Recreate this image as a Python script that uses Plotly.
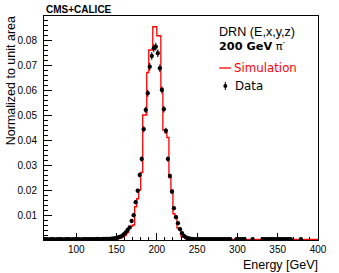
import math
import plotly.graph_objects as go

# ---------------- data ----------------
BIN_START = 60.0
BIN_WIDTH = 2.5
N_EVENTS = 30000  # used for Poisson error bars on data

data_values = [
    0.0003, 0.0003, 0.0002, 0.0003, 0.0003, 0.0002, 0.0003, 0.0003, 0.0003, 0.0002,
    0.0003, 0.0003, 0.0003, 0.0002, 0.0003, 0.0003, 0.0003, 0.0003, 0.0002, 0.0003,
    0.0003, 0.0003, 0.0003, 0.0003, 0.0003, 0.0003, 0.0004, 0.0003, 0.0003, 0.0004,
    0.0004, 0.0004, 0.0004, 0.0005, 0.0006, 0.0007, 0.0009, 0.0012, 0.0015, 0.0022,
    0.0030, 0.0040, 0.0050, 0.0076, 0.0099, 0.0151, 0.0197, 0.0260, 0.0324, 0.0443,
    0.0520, 0.0587, 0.0693, 0.0736, 0.0767, 0.0773, 0.0747, 0.0687, 0.0600, 0.0523,
    0.0437, 0.0324, 0.0256, 0.0193, 0.0127, 0.0091, 0.0067, 0.0043, 0.0027, 0.0016,
    0.0010, 0.0007, 0.0005, 0.0004, 0.0003, 0.0003, 0.0003, 0.0003, 0.0003, 0.0003,
    0.0003, 0.0003, 0.0003, 0.0003, 0.0003, 0.0003, 0.0003, 0.0003, 0.0003, 0.0003,
    0.0003, 0.0003, 0.0003, None, None, 0.0003, 0.0003, 0.0003, 0.0003, 0.0003,
    None, None, None, 0.0003, None, None, None, None, 0.0003, 0.0003,
    0.0003, 0.0003, 0.0003, 0.0003, 0.0003, 0.0003, 0.0003, 0.0003, 0.0003, 0.0003,
    0.0003, 0.0003, 0.0003, None, None, None, None, 0.0003, None, None,
    None, None, None, None, None, None,
]

sim_values = [
    0.0001, 0.0001, 0.0001, 0.0001, 0.0001, 0.0001, 0.0001, 0.0001, 0.0001, 0.0001,
    0.0001, 0.0001, 0.0001, 0.0001, 0.0001, 0.0001, 0.0001, 0.0001, 0.0001, 0.0001,
    0.0001, 0.0001, 0.0001, 0.0001, 0.0002, 0.0002, 0.0002, 0.0002, 0.0002, 0.0002,
    0.0002, 0.0002, 0.0003, 0.0003, 0.0004, 0.0005, 0.0005, 0.0007, 0.0010, 0.0013,
    0.0020, 0.0030, 0.0047, 0.0055, 0.0060, 0.0133, 0.0165, 0.0200, 0.0270, 0.0500,
    0.0500, 0.0670, 0.0760, 0.0760, 0.0853, 0.0853, 0.0817, 0.0817, 0.0607, 0.0440,
    0.0430, 0.0410, 0.0250, 0.0200, 0.0105, 0.0095, 0.0048, 0.0045, 0.0014, 0.0012,
    0.0006, 0.0005, 0.0004, 0.0004, 0.0003, 0.0003, 0.0002, 0.0002, 0.0002, 0.0002,
    0.0002, 0.0002, 0.0002, 0.0002, 0.0002, 0.0002, 0.0002, 0.0002, 0.0002, 0.0002,
    0.0002, 0.0002, 0.0002, 0.0002, 0.0002, 0.0002, 0.0002, 0.0002, 0.0002, 0.0002,
    0.0002, 0.0002, 0.0002, 0.0002, 0.0002, 0.0002, 0.0002, 0.0002, 0.0002, 0.0002,
    0.0002, 0.0002, 0.0002, 0.0002, 0.0002, 0.0002, 0.0002, 0.0002, 0.0002, 0.0002,
    0.0002, 0.0002, 0.0002, 0.0002, 0.0002, 0.0002, 0.0002, 0.0002, 0.0002, 0.0002,
    0.0002, 0.0002, 0.0002, 0.0002, 0.0002, 0.0002,
]

x_tick_vals = [100, 150, 200, 250, 300, 350, 400]
y_tick_vals = [0.01, 0.02, 0.03, 0.04, 0.05, 0.06, 0.07, 0.08]
y_tick_text = ["0.01", "0.02", "0.03", "0.04", "0.05", "0.06", "0.07", "0.08"]

# ---------------- derived ----------------
n_bins = len(sim_values)
edges = [BIN_START + BIN_WIDTH * i for i in range(n_bins + 1)]
centers = [BIN_START + BIN_WIDTH * (i + 0.5) for i in range(n_bins)]
data_err = [None if v is None else math.sqrt(v / N_EVENTS) for v in data_values]

# ---------------- layout geometry (page pixels) ----------------
W, H = 339, 273
L, R, T, B = 44, 324, 16, 240
FONT = "Liberation Sans, Arial, Helvetica, sans-serif"
LEG_FONT = "DejaVu Sans, Liberation Sans, sans-serif"


def xp(px):
    return (px - L) / (R - L)


def yp(py):
    return (B - py) / (B - T)


fig = go.Figure()

# Simulation histogram (step)
fig.add_trace(go.Scatter(
    x=edges, y=sim_values + [sim_values[-1]],
    mode="lines", line=dict(color="#ff0000", width=1.3, shape="hv"),
    showlegend=False, hoverinfo="skip", cliponaxis=True,
))

# Data points
fig.add_trace(go.Scatter(
    x=centers, y=data_values, mode="markers",
    marker=dict(color="black", size=4.3, symbol="circle"),
    error_y=dict(type="data", array=data_err, visible=True, color="black",
                 thickness=1, width=0),
    showlegend=False, hoverinfo="skip", cliponaxis=True,
))

fig.update_layout(
    width=W, height=H,
    margin=dict(l=L, r=W - R, t=T, b=H - B, pad=0),
    paper_bgcolor="white", plot_bgcolor="white",
    font=dict(family=FONT, size=10, color="black"),
    showlegend=False,
)

fig.update_xaxes(
    range=[60, 400], showgrid=False, zeroline=False,
    showline=True, linecolor="black", linewidth=1, mirror=True,
    ticks="inside", ticklen=7, tickwidth=1, tickcolor="black",
    tickmode="array", tickvals=x_tick_vals, ticktext=[str(v) for v in x_tick_vals],
    minor=dict(tickmode="linear", tick0=0, dtick=10, ticks="inside", ticklen=3.5,
               tickwidth=1, tickcolor="black", showgrid=False),
    tickfont=dict(size=10, family=FONT),
)
fig.update_yaxes(
    range=[0, 0.0896], showgrid=False, zeroline=False,
    showline=True, linecolor="black", linewidth=1, mirror=True,
    ticks="inside", ticklen=8, tickwidth=1, tickcolor="black",
    tickmode="array", tickvals=y_tick_vals, ticktext=y_tick_text,
    minor=dict(tickmode="linear", tick0=0, dtick=0.002, ticks="inside", ticklen=4,
               tickwidth=1, tickcolor="black", showgrid=False),
    tickfont=dict(size=10, family=FONT),
    ticklabelstandoff=4,
)

ann = []
ann.append(dict(text="<b>CMS+CALICE</b>", x=xp(44), y=yp(9), xref="paper", yref="paper",
                xanchor="left", yanchor="middle", showarrow=False,
                font=dict(size=10, family=FONT, color="black")))
ann.append(dict(text="Normalized to unit area", x=xp(10), y=yp(14), xref="paper", yref="paper",
                xanchor="center", yanchor="top", textangle=-90, showarrow=False,
                font=dict(size=12.5, family=FONT, color="black")))
ann.append(dict(text="Energy [GeV]", x=xp(326), y=yp(265), xref="paper", yref="paper",
                xanchor="right", yanchor="middle", showarrow=False,
                font=dict(size=12.5, family=FONT, color="black")))
# legend block
ann.append(dict(text="DRN (E,x,y,z)", x=xp(221), y=yp(31.5), xref="paper", yref="paper",
                xanchor="left", yanchor="middle", showarrow=False,
                font=dict(size=12.6, family=FONT, color="black")))
ann.append(dict(text="<b>200 GeV</b> \u03c0<sup>-</sup>", x=xp(221), y=yp(45), xref="paper", yref="paper",
                xanchor="left", yanchor="middle", showarrow=False,
                font=dict(size=11.3, family=LEG_FONT, color="black")))
ann.append(dict(text="Simulation", x=xp(236.5), y=yp(68), xref="paper", yref="paper",
                xanchor="left", yanchor="middle", showarrow=False,
                font=dict(size=11.8, family=LEG_FONT, color="#ff0000")))
ann.append(dict(text="Data", x=xp(237.5), y=yp(86), xref="paper", yref="paper",
                xanchor="left", yanchor="middle", showarrow=False,
                font=dict(size=11.8, family=LEG_FONT, color="black")))
fig.update_layout(annotations=ann)

shapes = []
shapes.append(dict(type="line", xref="paper", yref="paper",
                   x0=xp(223), x1=xp(235), y0=yp(68), y1=yp(68),
                   line=dict(color="#ff0000", width=1.3)))
shapes.append(dict(type="line", xref="paper", yref="paper",
                   x0=xp(229.3), x1=xp(229.3), y0=yp(82), y1=yp(90),
                   line=dict(color="black", width=1)))
shapes.append(dict(type="circle", xref="paper", yref="paper",
                   x0=xp(227.3), x1=xp(231.3), y0=yp(84), y1=yp(88),
                   fillcolor="black", line=dict(color="black", width=0)))
fig.update_layout(shapes=shapes)

fig.write_html("out.html",
               config={"displayModeBar": False, "staticPlot": True},
               post_script="document.body.style.margin='0';document.body.style.padding='0';")
